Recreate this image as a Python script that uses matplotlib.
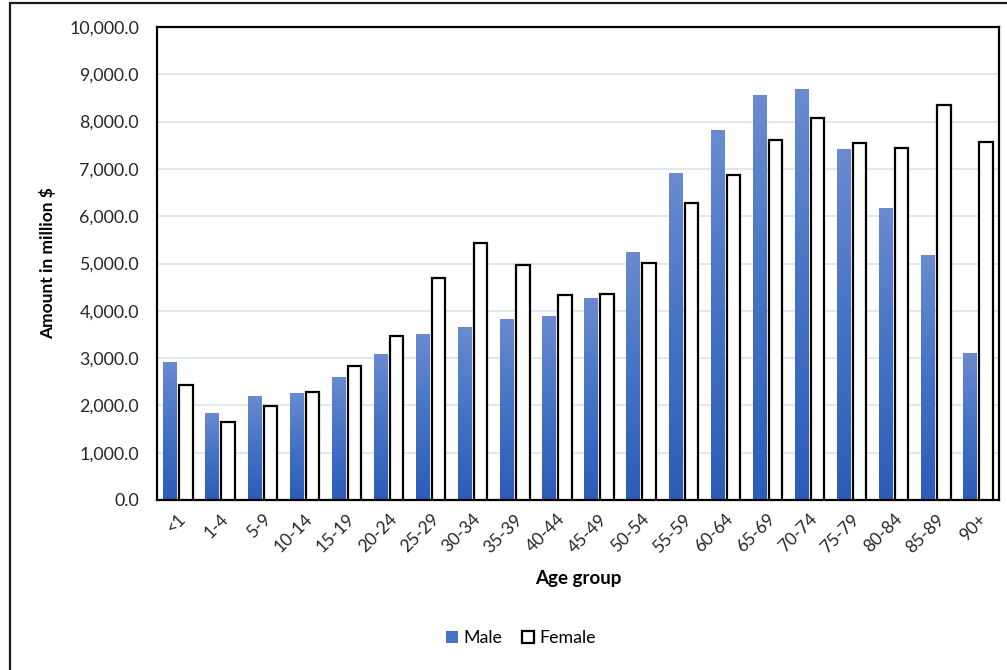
import numpy as np
import matplotlib
matplotlib.use("Agg")
import matplotlib.pyplot as plt
from matplotlib.patches import Rectangle, Patch
from matplotlib.ticker import FuncFormatter, MultipleLocator

plt.rcParams['font.family'] = ['Lato', 'DejaVu Sans']

age_groups = ['<1', '1-4', '5-9', '10-14', '15-19', '20-24', '25-29', '30-34',
              '35-39', '40-44', '45-49', '50-54', '55-59', '60-64', '65-69',
              '70-74', '75-79', '80-84', '85-89', '90+']
male = [2925, 1846, 2205, 2268, 2607, 3080, 3503, 3657, 3833, 3883,
        4264, 5243, 6907, 7822, 8562, 8689, 7414, 6167, 5180, 3101]
female = [2440, 1655, 1987, 2283, 2840, 3460, 4687, 5426, 4961, 4334,
          4355, 5004, 6286, 6871, 7604, 8076, 7541, 7448, 8345, 7562]

W, H = 1007, 670
fig = plt.figure(figsize=(W / 100, H / 100), dpi=100)
ax = fig.add_axes([157 / W, 1 - 500 / H, (999 - 157) / W, (500 - 27) / H])

x = np.arange(len(age_groups))
bw = 0.32
off = 0.19

# Male bars with a vertical gradient fill (light at top, dark at bottom)
grad = np.linspace(0, 1, 256).reshape(-1, 1)
cmap = matplotlib.colors.LinearSegmentedColormap.from_list(
    'blue_grad', ['#2c5cb8', '#4472c4', '#6a8bd0'])
male_bars = ax.bar(x - off, male, width=bw, color='#4472c4', edgecolor='none', zorder=2)
for b in male_bars:
    x0, w, h = b.get_x(), b.get_width(), b.get_height()
    im = ax.imshow(grad, extent=[x0, x0 + w, 0, h], origin='lower', cmap=cmap,
                   aspect='auto', zorder=2.1, interpolation='bilinear')
    im.set_clip_path(b)

ax.bar(x + off, female, width=bw, color='white', edgecolor='black',
       linewidth=1.6, zorder=3)

ax.set_xlim(-0.5, len(age_groups) - 0.5)
ax.set_ylim(0, 10000)
ax.yaxis.set_major_locator(MultipleLocator(1000))
ax.yaxis.set_major_formatter(FuncFormatter(lambda v, p: f"{v:,.1f}"))
ax.grid(axis='y', color='#dde1ea', linewidth=1.2, zorder=0)
ax.set_axisbelow(True)

ax.set_xticks(x)
ax.set_xticklabels(age_groups, rotation=45, ha='right', va='top',
                   rotation_mode='anchor', fontsize=12.5, color='#262626')
ax.tick_params(axis='both', length=0)
ax.tick_params(axis='x', pad=8)
ax.tick_params(axis='y', pad=13, labelsize=12.8, labelcolor='#262626')
for s in ax.spines.values():
    s.set_color('black')
    s.set_linewidth(1.6)

ax.set_xlabel('Age group', fontsize=13.5, fontweight='bold', labelpad=10)
ax.set_ylabel('Amount in million $', fontsize=12.5, fontweight='bold', labelpad=9)

handles = [Patch(facecolor='#4472c4', edgecolor='none', label='Male'),
           Patch(facecolor='white', edgecolor='black', linewidth=1.6, label='Female')]
fig.legend(handles=handles, loc='center', bbox_to_anchor=(521 / W, 1 - 638 / H),
           ncol=2, frameon=False, fontsize=12.8, handlelength=0.7, handleheight=0.7,
           handletextpad=0.3, columnspacing=1.1)

# Chart area border
fig.patches.append(Rectangle((10 / W, -0.05), 1.1, 1 - 3 / H + 0.05,
                             transform=fig.transFigure, fill=False,
                             edgecolor='#1a1a1a', linewidth=1.6, zorder=10))

fig.savefig('out.png', dpi=100)
